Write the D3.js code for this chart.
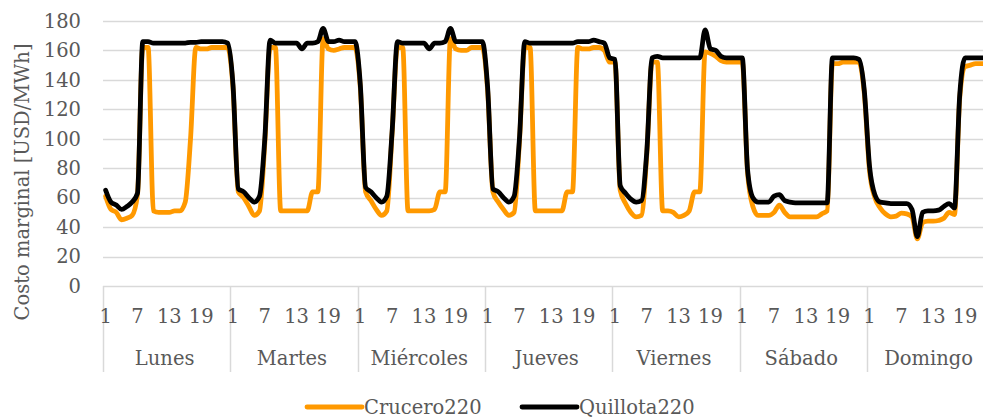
<!DOCTYPE html>
<html>
<head>
<meta charset="utf-8">
<script src="https://cdn.jsdelivr.net/npm/d3@7"></script>
<style>
  body { margin: 0; background: #fff; }
  svg { display: block; font-family: 'DejaVu Serif', serif; }
</style>
</head>
<body>
<svg id="chart" width="983" height="418"></svg>
<script>
const days = ['Lunes', 'Martes', 'Miércoles', 'Jueves', 'Viernes', 'Sábado', 'Domingo'];
const hourTicks = [1, 7, 13, 19];
const yTicks = [0, 20, 40, 60, 80, 100, 120, 140, 160, 180];

// one row per day, 24 hours each
const crucero = [
  61, 52, 50, 45, 46, 48, 62, 162, 162, 51, 50, 50, 50, 51, 51, 57, 100, 162, 161, 161, 162, 162, 162, 162,
  135, 64, 60, 54, 48, 51, 97, 162, 162, 51, 51, 51, 51, 51, 51, 64, 64, 168, 161, 160, 161, 162, 162, 162,
  135, 64, 58, 52, 48, 51, 104, 162, 162, 51, 51, 51, 51, 51, 52, 64, 64, 168, 161, 160, 160, 162, 162, 162,
  133, 64, 57, 52, 48, 50, 98, 162, 162, 51, 51, 51, 51, 51, 51, 64, 64, 162, 161, 161, 162, 162, 160, 152,
  152, 65, 56, 50, 47, 48, 89, 152, 152, 51, 51, 50, 47, 48, 51, 64, 64, 159, 158, 156, 153, 152, 152, 152,
  152, 77, 54, 48, 48, 48, 50, 55, 50, 47, 47, 47, 47, 47, 47, 49, 51, 151, 151, 152, 152, 152, 152, 131,
  78, 60, 53, 49, 47, 47.5, 49.5, 49, 47, 32, 43, 44, 44, 44.5, 46, 50, 48.5, 128, 149, 150, 151, 151, 151, 151
];
const quillota = [
  65, 57, 55, 52, 54, 57, 63, 166, 166, 165, 165, 165, 165, 165, 165, 165, 165.5, 165.5, 166, 166, 166, 166, 166, 165,
  137, 66, 64, 60, 57, 61, 100, 167, 165, 165, 165, 165, 165, 161, 165, 165, 166, 175, 166, 166, 167, 166, 166, 166,
  137, 67, 64, 60, 57, 61, 105, 166, 165, 165, 165, 165, 165, 161, 165, 165, 166, 175, 166, 166, 166, 166, 166, 166,
  135, 66, 64, 60, 57, 61, 100, 166, 165, 165, 165, 165, 165, 165, 165, 165, 165, 166, 166, 166, 167, 166, 165, 155,
  154, 68, 63, 59, 57, 58, 91, 155, 156, 155, 155, 155, 155, 155, 155, 155, 155, 174, 161, 160, 156, 155, 155, 155,
  155, 79, 60, 57, 57, 57, 61, 62, 58, 57, 56.5, 56.5, 56.5, 56.5, 56.5, 56.5, 56.5, 155, 155, 155, 155, 155, 154, 133,
  81, 62, 57, 56.5, 56, 56, 56, 56, 52, 33.5, 50, 51, 51, 51.5, 54, 56, 53, 130, 155, 155, 155, 155, 155, 155
];

const series = [
  {name: 'Crucero220', values: crucero, color: '#FF9900'},
  {name: 'Quillota220', values: quillota, color: '#000000'}
];

const svg = d3.select('#chart');
const plotLeft = 103, plotTop = 21, plotBottom = 286;
const slot = 5.305;
const plotRight = plotLeft + slot * crucero.length;
const textColor = '#595959';
const gridColor = '#d9d9d9';
const fontSize = 19.5;

const x = d3.scaleBand()
  .domain(d3.range(crucero.length))
  .range([plotLeft, plotRight]);
const y = d3.scaleLinear().domain([0, 180]).range([plotBottom, plotTop]);
const px = i => x(i) + x.bandwidth() / 2;

// gridlines
svg.append('g')
  .selectAll('line')
  .data(yTicks)
  .enter().append('line')
  .attr('x1', plotLeft).attr('x2', 983)
  .attr('y1', d => Math.round(y(d)) + 0.5).attr('y2', d => Math.round(y(d)) + 0.5)
  .attr('stroke', gridColor).attr('stroke-width', 1.5);

// y labels
svg.append('g')
  .selectAll('text')
  .data(yTicks)
  .enter().append('text')
  .attr('x', 81).attr('y', d => y(d))
  .attr('dy', '0.35em')
  .attr('text-anchor', 'end')
  .attr('font-size', fontSize)
  .attr('fill', textColor)
  .text(d => d);

svg.append('text')
  .attr('transform', 'translate(22,182) rotate(-90)')
  .attr('text-anchor', 'middle')
  .attr('dy', '0.35em')
  .attr('font-size', fontSize)
  .attr('fill', textColor)
  .text('Costo marginal [USD/MWh]');

// day separators on the category axis
const dayEdges = d3.range(days.length + 1).map(d => d < days.length ? x(d * 24) : plotRight);
svg.append('g')
  .selectAll('line')
  .data(dayEdges)
  .enter().append('line')
  .attr('x1', d => Math.round(d) + 0.5).attr('x2', d => Math.round(d) + 0.5)
  .attr('y1', plotBottom).attr('y2', 372)
  .attr('stroke', gridColor).attr('stroke-width', 1.5);

// hour labels
const hourLabels = [];
days.forEach((day, di) => hourTicks.forEach(h => hourLabels.push({i: di * 24 + h - 1, h})));
svg.append('g')
  .selectAll('text')
  .data(hourLabels)
  .enter().append('text')
  .attr('x', d => px(d.i)).attr('y', 316)
  .attr('dy', '0.35em')
  .attr('text-anchor', 'middle')
  .attr('font-size', fontSize)
  .attr('fill', textColor)
  .text(d => d.h);

// day labels
svg.append('g')
  .selectAll('text')
  .data(days)
  .enter().append('text')
  .attr('x', (d, i) => (dayEdges[i] + dayEdges[i + 1]) / 2 - 2)
  .attr('y', 358)
  .attr('dy', '0.35em')
  .attr('text-anchor', 'middle')
  .attr('font-size', fontSize)
  .attr('fill', textColor)
  .text(d => d);

// lines
const line = d3.line()
  .x((d, i) => px(i))
  .y(d => y(d))
  .curve(d3.curveMonotoneX);

svg.append('g')
  .selectAll('path')
  .data(series)
  .enter().append('path')
  .attr('d', d => line(d.values))
  .attr('fill', 'none')
  .attr('stroke', d => d.color)
  .attr('stroke-width', 4.8)
  .attr('stroke-linejoin', 'round')
  .attr('stroke-linecap', 'round');

// legend
const legendX = [307, 522];
const legend = svg.append('g')
  .selectAll('g')
  .data(series)
  .enter().append('g')
  .attr('transform', (d, i) => `translate(${legendX[i]},407)`);
legend.append('line')
  .attr('x1', 0).attr('x2', 55)
  .attr('stroke', d => d.color)
  .attr('stroke-width', 4.8)
  .attr('stroke-linecap', 'round');
legend.append('text')
  .attr('x', 57)
  .attr('dy', '0.35em')
  .attr('font-size', fontSize)
  .attr('fill', textColor)
  .text(d => d.name);
</script>
</body>
</html>
